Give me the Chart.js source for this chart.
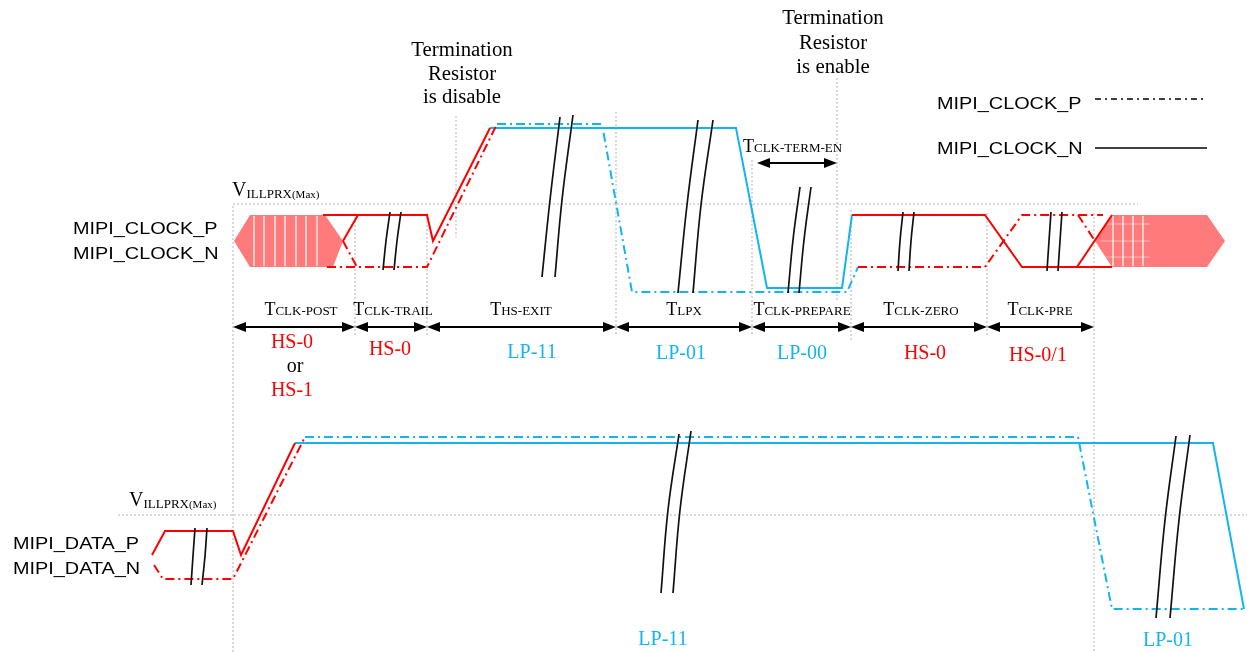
<!DOCTYPE html>
<html><head><meta charset="utf-8">
<script src="https://cdn.jsdelivr.net/npm/chart.js@4/dist/chart.umd.min.js"></script>
<style>html,body{margin:0;padding:0;background:#fff}canvas{display:block}</style>
</head><body>
<canvas id="c" width="1247" height="652"></canvas>
<script>
// ================= DATA (diagram units: x = time axis, y = level axis, top-down) =================
// Clock lane
const clkSolidRed1  = [[323,215],[427,215],[433,241],[490,128]];
const clkSolidRed1b = [[343,241],[358,215]];
const clkDashRed1   = [[327,267],[427,267],[497,124]];
const clkDashRed1b  = [[343,241],[357,267]];
const clkSolidCyan  = [[490,128],[736,128],[767,288],[842,288],[852,215]];
const clkDashCyan   = [[497,124],[602,124],[632,292],[847,292],[858,267]];
const clkSolidRed2  = [[852,215],[985,215],[1022,267],[1112,267]];
const clkSolidRed2b = [[1077,267],[1112,215]];
const clkDashRed2   = [[858,267],[985,267],[1022,215],[1103,215]];
const clkDashRed2b  = [[1078,215],[1095,241]];
const clkHexLeft    = [[234,241],[250,215],[325,215],[343,241],[333,267],[250,267]];
const clkHexRight   = [[1095,241],[1112,215],[1207,215],[1225,241],[1207,267],[1112,267]];
const hexHatchX     = [254,264,275,285,296,306,317,1113,1123,1133,1143];
const hexHatchY     = [224,241,257];
// Data lane
const dataSolidRed  = [[152,555],[165,531],[233,531],[241,555],[295,443]];
const dataDashRed   = [[154,565],[163,579],[233,579],[305,437]];
const dataSolidCyan = [[295,443],[1213,443],[1244,609]];
const dataDashCyan  = [[305,437],[1078,437],[1112,609],[1244,609]];
// Break marks (pairs of curves: top, middle, bottom)
const breakMarks = [
  [[390,212],[386,241],[383,270]], [[401,212],[397,241],[394,270]],
  [[560,117],[550,200],[542,277]], [[573,115],[562,200],[555,277]],
  [[698,120],[687,205],[678,293]], [[713,120],[701,205],[693,293]],
  [[800,187],[793,240],[788,293]], [[811,187],[804,240],[799,293]],
  [[903,212],[900,241],[898,271]], [[914,212],[911,241],[909,271]],
  [[1051,212],[1049,241],[1047,271]], [[1062,212],[1060,241],[1058,271]],
  [[195,528],[193,556],[191,585]], [[207,528],[205,556],[202,585]],
  [[679,434],[668,510],[661,593]], [[691,431],[680,510],[673,593]],
  [[1176,436],[1165,520],[1156,618]], [[1190,435],[1179,520],[1170,618]]
];
// Reference guides: vertical [x, yTop, yBottom], horizontal [y, xLeft, xRight]
const vGuides = [[233,206,652],[355,213,336],[427,213,336],[456,116,237],[616,112,336],
                 [752,160,336],[837,78,300],[851,210,340],[987,213,336],[1094,213,652]];
const hGuides = [[204,233,1138],[515,118,1247]];
// Timing phases
const phaseBounds = [233,355,427,616,752,851,987,1094];
const phaseNames  = ['CLK-POST','CLK-TRAIL','HS-EXIT','LPX','CLK-PREPARE','CLK-ZERO','CLK-PRE'];
const phaseStates = ['HS-0','HS-0','LP-11','LP-01','LP-00','HS-0','HS-0/1'];
const termEnBounds = [757,837];
const termDisableText = ['Termination','Resistor','is disable'];
const termEnableText  = ['Termination','Resistor','is enable'];
const laneLabelsClk  = ['MIPI_CLOCK_P','MIPI_CLOCK_N'];
const laneLabelsData = ['MIPI_DATA_P','MIPI_DATA_N'];
const legendLabels   = ['MIPI_CLOCK_P','MIPI_CLOCK_N'];
const dataStates     = ['LP-11','LP-01'];

// ================= LAYOUT / STYLE =================
const RED = '#FF0000', CYAN = '#14B4F0', HEX = '#FF7B7B', GUIDE = '#B4B4B4';
const DASHDOT = [9,4,2,4];
const SERIF = '"Liberation Serif", "Times New Roman", serif';
const SANS = '"Liberation Sans", Arial, sans-serif';
const L = {
  arrowY: 327, termEnY: 163,
  phaseLabelX: [301,393,521,684,802,921,1040], phaseLabelY: 315,
  stateX: [292,390,532,681,802,925,1038], stateY: [348,355,358,359,359,359,361],
  termDisable: {x:462, y:[56,80,103]}, termEnable: {x:833, y:[24,49,73]},
  termEnLabel: {x:743, y:152},
  vTop: {x:232, y:196}, vBot: {x:129, y:506},
  clkLabel: {x:73, y:[234,259]}, dataLabel: {x:13, y:[549,574]},
  legend: {x:937, y:[109,154], lineY:[99,148], x1:1095, x2:1207},
  dataStateX: [663,1168], dataStateY: [645,646]
};

// ================= DATASETS =================
const DS = [];
const xy = a => a.map(([x,y]) => ({x, y}));
function addLine(pts, color, o = {}) {
  DS.push(Object.assign({data: xy(pts), borderColor: color, borderWidth: 2, pointRadius: 0,
    fill: false, tension: 0, order: 5, borderCapStyle: 'butt'}, o));
}
// hexagons
[clkHexLeft, clkHexRight].forEach(h => addLine(h, 'rgba(0,0,0,0)', {fill: 'shape', backgroundColor: HEX, borderWidth: 0, order: 20}));
hexHatchX.forEach(x => addLine([[x,216],[x,266]], 'rgba(255,255,255,0.55)', {borderWidth: 1, order: 19}));
hexHatchY.forEach(y => addLine([[1100,y],[1150,y]], 'rgba(255,255,255,0.45)', {borderWidth: 1, order: 19}));
// guides
vGuides.forEach(([x,a,b]) => addLine([[x,a],[x,b]], GUIDE, {borderWidth: 1, borderDash: [2,2], order: 15}));
hGuides.forEach(([y,a,b]) => addLine([[a,y],[b,y]], GUIDE, {borderWidth: 1, borderDash: [2,2], order: 15}));
// waveforms
[clkSolidRed1, clkSolidRed1b, clkSolidRed2, clkSolidRed2b, dataSolidRed].forEach(p => addLine(p, RED));
[clkDashRed1, clkDashRed1b, clkDashRed2, clkDashRed2b, dataDashRed].forEach(p => addLine(p, RED, {borderDash: DASHDOT}));
[clkSolidCyan, dataSolidCyan].forEach(p => addLine(p, CYAN));
[clkDashCyan, dataDashCyan].forEach(p => addLine(p, CYAN, {borderDash: DASHDOT}));
// break marks
breakMarks.forEach(p => addLine(p, '#111', {borderWidth: 1.7, tension: 0.4, order: 2}));
// arrows
const head = (() => { const c = document.createElement('canvas'); c.width = 13; c.height = 10;
  const g = c.getContext('2d'); g.fillStyle = '#000'; g.beginPath(); g.moveTo(0,0); g.lineTo(13,5); g.lineTo(0,10); g.closePath(); g.fill(); return c; })();
function addArrow(a, b, y) {
  addLine([[a+6.5,y],[b-6.5,y]], '#000', {borderWidth: 2, pointRadius: 6, pointStyle: head,
    pointRotation: [180, 0], pointBackgroundColor: '#000', order: 1});
}
for (let i = 0; i < phaseBounds.length - 1; i++) addArrow(phaseBounds[i], phaseBounds[i+1], L.arrowY);
addArrow(termEnBounds[0], termEnBounds[1], L.termEnY);
// legend lines
addLine([[L.legend.x1, L.legend.lineY[0]],[L.legend.x2, L.legend.lineY[0]]], '#000', {borderWidth: 1.6, borderDash: [6,4,2,4]});
addLine([[L.legend.x1, L.legend.lineY[1]],[L.legend.x2, L.legend.lineY[1]]], '#000', {borderWidth: 1.6});

// ================= TEXT PLUGIN =================
function rich(ctx, parts, x, y, align, sx, color) {
  let w = 0;
  parts.forEach(p => { ctx.font = p.f; p.w = ctx.measureText(p.t).width; w += p.w; });
  ctx.save(); ctx.translate(x, y); ctx.scale(sx, 1);
  ctx.fillStyle = color; ctx.textBaseline = 'alphabetic'; ctx.textAlign = 'left';
  let cx = align === 'center' ? -w/2 : (align === 'right' ? -w : 0);
  parts.forEach(p => { ctx.font = p.f; if (p.c) ctx.fillStyle = p.c; ctx.fillText(p.t, cx, p.dy || 0); cx += p.w; });
  ctx.restore();
}
const textPlugin = {
  id: 'diagramText',
  afterDatasetsDraw(chart) {
    const ctx = chart.ctx, X = v => chart.scales.x.getPixelForValue(v), Y = v => chart.scales.y.getPixelForValue(v);
    const T = s => [{t: 'T', f: '18px ' + SERIF}, {t: s, f: '13px ' + SERIF}];
    phaseNames.forEach((n, i) => rich(ctx, T(n), X(L.phaseLabelX[i]), Y(L.phaseLabelY), 'center', 1.0, '#000'));
    rich(ctx, T('CLK-TERM-EN'), X(L.termEnLabel.x), Y(L.termEnLabel.y), 'left', 1.0, '#000');
    phaseStates.forEach((s, i) => rich(ctx, [{t: s, f: '20px ' + SERIF}], X(L.stateX[i]), Y(L.stateY[i]), 'center', 1.0,
      s.startsWith('HS') ? RED : CYAN));
    rich(ctx, [{t: 'or', f: '20px ' + SERIF}], X(295), Y(372), 'center', 1.0, '#000');
    rich(ctx, [{t: 'HS-1', f: '20px ' + SERIF}], X(292), Y(396), 'center', 1.0, RED);
    termDisableText.forEach((s, i) => rich(ctx, [{t: s, f: '20px ' + SERIF}], X(L.termDisable.x), Y(L.termDisable.y[i]), 'center', 1.04, '#000'));
    termEnableText.forEach((s, i) => rich(ctx, [{t: s, f: '20px ' + SERIF}], X(L.termEnable.x), Y(L.termEnable.y[i]), 'center', 1.04, '#000'));
    const V = [{t: 'V', f: '20px ' + SERIF}, {t: 'ILLPRX', f: '13px ' + SERIF, dy: 2}, {t: '(Max)', f: '11px ' + SERIF, dy: 2}];
    rich(ctx, V, X(L.vTop.x), Y(L.vTop.y), 'left', 1.0, '#000');
    rich(ctx, V, X(L.vBot.x), Y(L.vBot.y), 'left', 1.0, '#000');
    laneLabelsClk.forEach((s, i) => rich(ctx, [{t: s, f: '16px ' + SANS}], X(L.clkLabel.x), Y(L.clkLabel.y[i]), 'left', 1.24, '#000'));
    laneLabelsData.forEach((s, i) => rich(ctx, [{t: s, f: '16px ' + SANS}], X(L.dataLabel.x), Y(L.dataLabel.y[i]), 'left', 1.24, '#000'));
    legendLabels.forEach((s, i) => rich(ctx, [{t: s, f: '16px ' + SANS}], X(L.legend.x), Y(L.legend.y[i]), 'left', 1.24, '#000'));
    dataStates.forEach((s, i) => rich(ctx, [{t: s, f: '20px ' + SERIF}], X(L.dataStateX[i]), Y(L.dataStateY[i]), 'center', 1.0, CYAN));
  }
};

new Chart(document.getElementById('c'), {
  type: 'line',
  data: {datasets: DS},
  options: {
    responsive: false, animation: false, events: [],
    layout: {padding: 0, autoPadding: false},
    plugins: {legend: {display: false}, tooltip: {enabled: false}},
    scales: {
      x: {type: 'linear', min: 0, max: 1247, display: false},
      y: {type: 'linear', min: 0, max: 652, reverse: true, display: false}
    }
  },
  plugins: [textPlugin]
});
</script>
</body></html>
